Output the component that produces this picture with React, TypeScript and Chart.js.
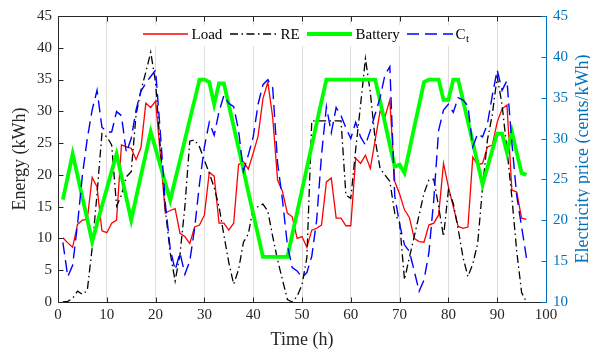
import React, { useEffect, useRef } from 'react';
import { Chart, registerables } from 'chart.js';

Chart.register(...registerables);

const HOURS: number[] = Array.from({ length: 96 }, (_, i) => i + 1);

const LOAD: number[] = [
  10.1, 9.3, 8.6, 12.2, 12.9, 13.0, 19.6, 18.1, 11.2, 10.9,
  12.4, 12.9, 24.7, 24.4, 24.2, 22.4, 24.3, 31.3, 30.6, 31.6,
  23.0, 14.0, 14.4, 14.7, 10.8, 10.3, 9.2, 11.8, 12.1, 13.7,
  20.4, 19.8, 12.4, 12.4, 11.3, 12.4, 21.6, 22.1, 20.9, 23.4,
  26.1, 32.0, 34.6, 29.0, 19.2, 17.4, 14.0, 13.4, 10.0, 10.3,
  8.6, 11.3, 11.6, 12.1, 18.9, 19.5, 13.2, 13.2, 12.0, 12.0,
  22.6, 21.8, 23.1, 21.0, 25.5, 30.0, 29.1, 31.8, 19.0, 17.0,
  14.5, 13.3, 10.0, 9.5, 9.4, 12.1, 12.4, 13.7, 21.8, 18.1,
  15.0, 11.9, 11.6, 11.8, 22.8, 21.6, 21.8, 24.4, 24.7, 28.3,
  30.4, 31.0, 17.6, 17.3, 13.2, 13.0,
];

const RE: number[] = [
  0.0, 0.1, 0.6, 1.7, 1.2, 1.8, 8.5, 17.0, 26.5, 26.0,
  24.7, 15.1, 16.8, 19.7, 20.5, 29.5, 33.3, 36.2, 39.3, 34.5,
  24.0, 14.5, 7.7, 3.3, 7.5, 15.0, 25.3, 25.5, 24.4, 22.3,
  20.3, 18.0, 15.0, 10.5, 6.2, 2.8, 5.1, 9.4, 10.7, 14.8,
  15.0, 15.4, 14.3, 10.3, 6.6, 3.5, 0.4, 0.0, 0.9, 2.7,
  7.0, 28.5, 28.5, 28.5, 28.5, 28.5, 28.5, 28.5, 16.8, 16.3,
  24.0, 31.0, 38.3, 33.0, 25.5, 21.0, 20.0, 19.0, 14.0, 12.5,
  3.5, 7.0, 10.3, 13.7, 17.1, 19.2, 19.3, 15.0, 10.3, 17.6,
  15.5, 11.5, 7.0, 4.0, 6.0, 9.2, 18.0, 25.5, 29.5, 35.5,
  31.0, 24.0, 16.5, 8.0, 1.5, 0.0,
];

const BATTERY: number[] = [
  16.1, 19.7, 23.3, 19.9, 16.4, 13.0, 9.5, 12.3, 15.1, 17.8,
  20.6, 23.3, 19.8, 16.4, 12.9, 16.4, 19.9, 23.3, 26.8, 24.1,
  21.4, 18.7, 16.0, 19.2, 22.3, 25.5, 28.7, 31.8, 35.0, 35.0,
  34.6, 31.1, 34.4, 34.4, 31.0, 27.6, 24.2, 20.8, 17.3, 13.9,
  10.5, 7.1, 7.1, 7.1, 7.1, 7.1, 7.1, 10.6, 14.1, 17.6,
  21.1, 24.6, 28.1, 31.6, 35.0, 35.0, 35.0, 35.0, 35.0, 35.0,
  35.0, 35.0, 35.0, 35.0, 35.0, 31.6, 28.2, 24.7, 21.3, 21.6,
  20.3, 23.9, 27.5, 31.0, 34.6, 35.0, 35.0, 35.0, 31.8, 31.8,
  35.0, 35.0, 31.7, 28.4, 25.1, 21.8, 18.5, 21.2, 23.9, 26.5,
  26.5, 23.5, 26.8, 23.5, 20.3, 20.0,
];

const PRICE: number[] = [
  17.3, 13.1, 14.5, 19.5, 25.5, 30.0, 33.5, 35.9, 31.4, 30.8,
  30.8, 33.3, 32.8, 28.3, 30.0, 33.5, 35.8, 36.8, 37.6, 38.4,
  30.5, 22.0, 16.5, 13.9, 16.0, 13.4, 15.0, 19.0, 24.5, 29.0,
  32.0, 30.4, 33.3, 35.3, 34.3, 33.9, 31.0, 26.0, 28.0, 30.2,
  34.2, 36.6, 37.2, 36.2, 27.0, 22.5, 17.0, 14.2, 13.8, 13.0,
  13.6, 15.6, 20.0, 28.0, 33.9, 30.7, 33.8, 32.8, 31.3, 30.0,
  32.0, 30.2, 29.2, 31.0, 33.0, 35.0, 37.8, 38.8, 23.0, 19.5,
  17.0, 16.2, 13.8, 11.3, 12.7, 16.0, 22.5, 31.0, 33.5, 34.2,
  33.2, 35.0, 34.7, 34.0, 29.0, 30.6, 30.2, 31.8, 35.3, 38.4,
  35.9, 37.1, 29.5, 23.0, 19.2, 15.4,
];

const LEGEND_LABELS = ['Load', 'RE', 'Battery', 'C'];
const X_TITLE = 'Time (h)';
const Y_TITLE = 'Energy (kWh)';
const Y2_TITLE = 'Electricity price (cents/kWh)';

const SERIF = "'Liberation Serif', 'Times New Roman', serif";
const AXIS_DARK = '#262626';
const AXIS_BLUE = '#0072BD';
const RED = '#ff0000';
const GREEN = '#00ff00';
const BLUE = '#0000ff';
const BLACK = '#000000';
const RE_DASH = [8, 3.5, 1.5, 3.5];
const CT_DASH = [12, 6];

const toXY = (vals: number[]) => vals.map((v, i) => ({ x: HOURS[i], y: v }));

const framePlugin = {
  id: 'framePlugin',
  afterDatasetsDraw(chart: any) {
    const { ctx, chartArea, scales } = chart;
    const { left, right, top, bottom } = chartArea;
    ctx.save();

    // legend (white background, no border)
    ctx.fillStyle = '#ffffff';
    ctx.fillRect(138, 25, 340, 21);
    const ly = 34;
    const drawSample = (x0: number, x1: number, color: string, w: number, dash: number[]) => {
      ctx.beginPath();
      ctx.setLineDash(dash);
      ctx.strokeStyle = color;
      ctx.lineWidth = w;
      ctx.moveTo(x0, ly);
      ctx.lineTo(x1, ly);
      ctx.stroke();
      ctx.setLineDash([]);
    };
    ctx.font = `15px ${SERIF}`;
    ctx.fillStyle = BLACK;
    ctx.textAlign = 'left';
    ctx.textBaseline = 'middle';
    drawSample(143, 188, RED, 1.3, []);
    ctx.fillText(LEGEND_LABELS[0], 191.5, ly + 1);
    drawSample(230, 278, BLACK, 1.3, RE_DASH);
    ctx.fillText(LEGEND_LABELS[1], 280.5, ly + 1);
    drawSample(307, 352, GREEN, 3.8, []);
    ctx.fillText(LEGEND_LABELS[2], 355.5, ly + 1);
    drawSample(407, 453, BLUE, 1.4, CT_DASH);
    ctx.fillText(LEGEND_LABELS[3], 455.5, ly + 1);
    const cw = ctx.measureText(LEGEND_LABELS[3]).width;
    ctx.font = `11px ${SERIF}`;
    ctx.fillText('t', 455.5 + cw + 0.5, ly + 5);

    // frame
    ctx.lineWidth = 1;
    ctx.strokeStyle = AXIS_DARK;
    const L = Math.round(left) + 0.5;
    const R = Math.round(right) + 0.5;
    const T = Math.round(top) + 0.5;
    const B = Math.round(bottom) + 0.5;
    ctx.beginPath();
    ctx.moveTo(L, T); ctx.lineTo(R, T);
    ctx.moveTo(L, B); ctx.lineTo(R, B);
    ctx.moveTo(L, T); ctx.lineTo(L, B);
    ctx.stroke();

    const tl = 5;
    // x ticks (bottom and top, inward)
    ctx.beginPath();
    scales.x.ticks.forEach((t: any) => {
      const px = Math.round(scales.x.getPixelForValue(t.value)) + 0.5;
      ctx.moveTo(px, B); ctx.lineTo(px, B - tl);
      ctx.moveTo(px, T); ctx.lineTo(px, T + tl);
    });
    // left y ticks
    scales.y.ticks.forEach((t: any) => {
      const py = Math.round(scales.y.getPixelForValue(t.value)) + 0.5;
      ctx.moveTo(L, py); ctx.lineTo(L + tl, py);
    });
    ctx.stroke();

    // right axis in blue
    ctx.strokeStyle = AXIS_BLUE;
    ctx.beginPath();
    ctx.moveTo(R, T); ctx.lineTo(R, B);
    scales.y1.ticks.forEach((t: any) => {
      const py = Math.round(scales.y1.getPixelForValue(t.value)) + 0.5;
      ctx.moveTo(R, py); ctx.lineTo(R - tl, py);
    });
    ctx.stroke();

    // axis titles
    const midY = (top + bottom) / 2;
    ctx.font = `18px ${SERIF}`;
    ctx.textAlign = 'center';
    ctx.textBaseline = 'middle';
    ctx.fillStyle = AXIS_DARK;
    ctx.fillText(X_TITLE, (left + right) / 2, 340);
    ctx.save();
    ctx.translate(20, midY);
    ctx.rotate(-Math.PI / 2);
    ctx.fillText(Y_TITLE, 0, 0);
    ctx.restore();
    ctx.save();
    ctx.fillStyle = AXIS_BLUE;
    ctx.translate(583, midY);
    ctx.rotate(-Math.PI / 2);
    ctx.fillText(Y2_TITLE, 0, 0);
    ctx.restore();

    ctx.restore();
  },
};

export default function App() {
  const canvasRef = useRef<HTMLCanvasElement | null>(null);

  useEffect(() => {
    document.body.style.margin = '0';
    const canvas = canvasRef.current;
    if (!canvas) return;
    const chart = new Chart(canvas, {
      type: 'line',
      data: {
        datasets: [
          {
            label: 'Load',
            data: toXY(LOAD),
            borderColor: RED,
            borderWidth: 1.3,
            pointRadius: 0,
            yAxisID: 'y',
            order: 4,
          },
          {
            label: 'RE',
            data: toXY(RE),
            borderColor: BLACK,
            borderWidth: 1.3,
            borderDash: RE_DASH,
            pointRadius: 0,
            yAxisID: 'y',
            order: 3,
          },
          {
            label: 'Battery',
            data: toXY(BATTERY),
            borderColor: GREEN,
            borderWidth: 3.8,
            pointRadius: 0,
            yAxisID: 'y',
            order: 2,
          },
          {
            label: 'Ct',
            data: toXY(PRICE),
            borderColor: BLUE,
            borderWidth: 1.4,
            borderDash: CT_DASH,
            pointRadius: 0,
            yAxisID: 'y1',
            order: 1,
          },
        ],
      },
      options: {
        animation: false,
        responsive: false,
        devicePixelRatio: 1,
        layout: { padding: { top: 15, left: 0, right: 0, bottom: 0 } },
        plugins: { legend: { display: false }, tooltip: { enabled: false } },
        elements: { line: { tension: 0, borderCapStyle: 'butt', borderJoinStyle: 'miter' } },
        scales: {
          x: {
            type: 'linear',
            min: 0,
            max: 100,
            ticks: {
              stepSize: 10,
              color: AXIS_DARK,
              font: { family: SERIF, size: 15 },
              padding: 4,
              maxRotation: 0,
            },
            grid: { color: '#dedede', lineWidth: 1, drawTicks: false },
            border: { display: false },
            afterFit: (s: any) => { s.height = 50; },
          },
          y: {
            type: 'linear',
            position: 'left',
            min: 0,
            max: 45,
            ticks: {
              stepSize: 5,
              color: AXIS_DARK,
              font: { family: SERIF, size: 15 },
              padding: 6,
            },
            grid: { display: false, drawTicks: false },
            border: { display: false },
            afterFit: (s: any) => { s.width = 58; },
          },
          y1: {
            type: 'linear',
            position: 'right',
            min: 10,
            max: 45,
            ticks: {
              stepSize: 5,
              color: AXIS_BLUE,
              font: { family: SERIF, size: 15 },
              padding: 7,
            },
            grid: { display: false, drawTicks: false },
            border: { display: false },
            afterFit: (s: any) => { s.width = 44; },
          },
        },
      },
      plugins: [framePlugin],
    });
    return () => chart.destroy();
  }, []);

  return (
    <div style={{ position: 'fixed', left: 0, top: 0, width: 590, height: 352, background: '#fff' }}>
      <canvas ref={canvasRef} width={590} height={352} style={{ width: 590, height: 352, display: 'block' }} />
    </div>
  );
}
